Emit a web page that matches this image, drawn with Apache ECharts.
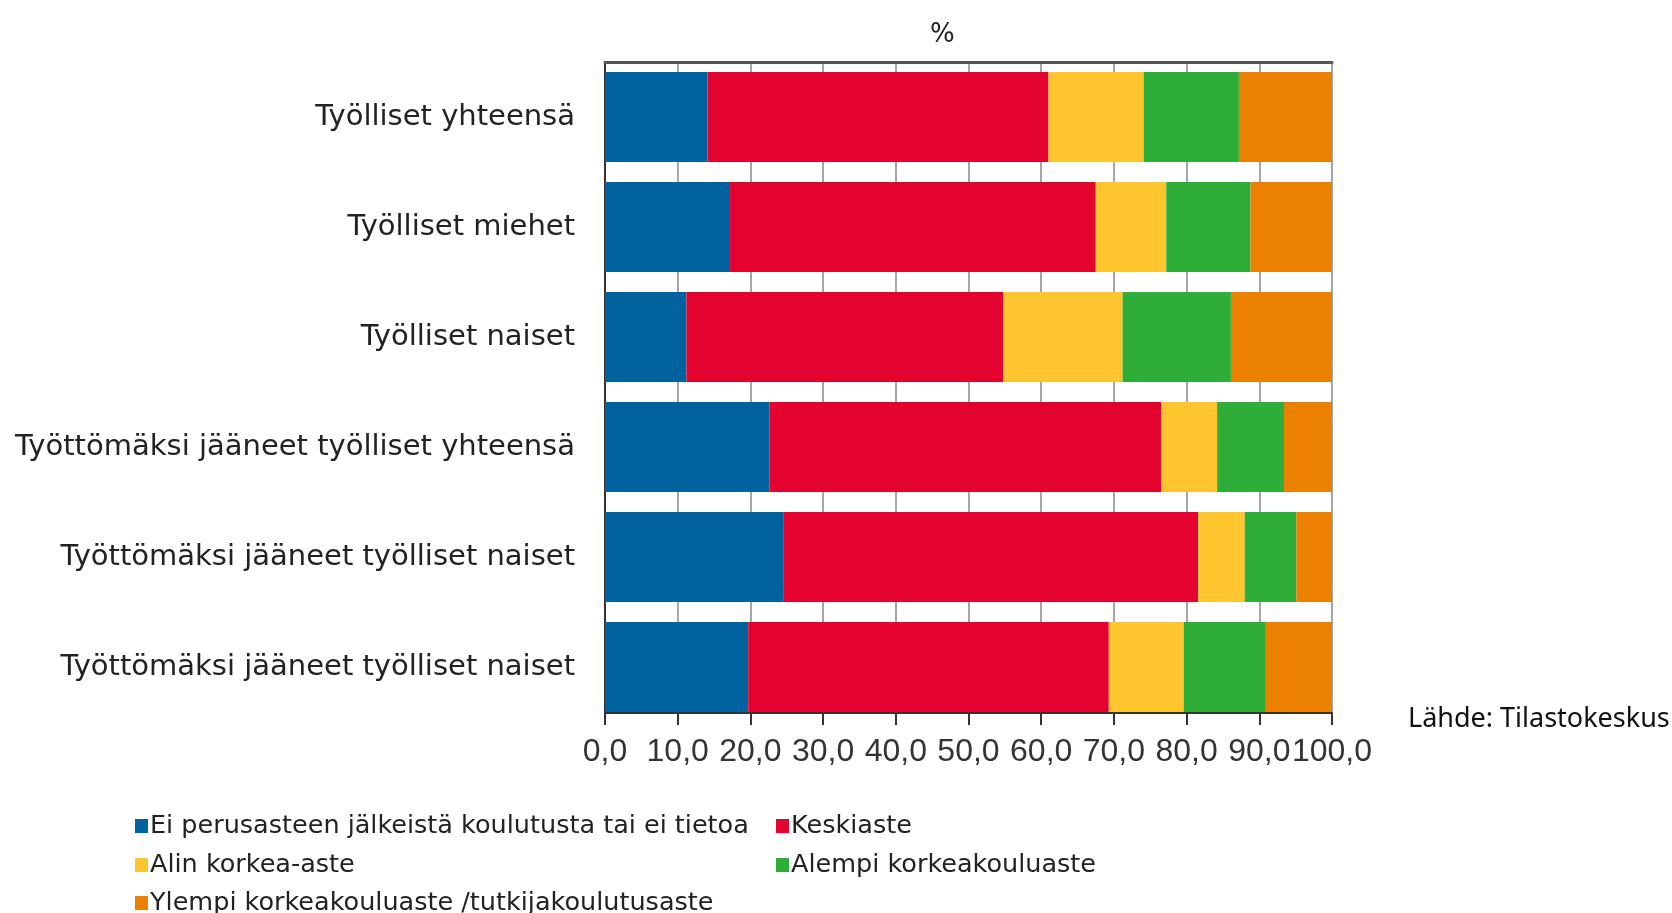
<!DOCTYPE html>
<html>
<head>
<meta charset="utf-8">
<title>Koulutusaste</title>
<script src="https://cdn.jsdelivr.net/npm/echarts@6/dist/echarts.min.js"></script>
<style>
html,body{margin:0;padding:0;background:#fff;}
#chart{width:1672px;height:913px;}
</style>
</head>
<body>
<div id="chart"></div>
<script>
// categories (top to bottom)
var categories = [
	'Työlliset yhteensä',
	'Työlliset miehet',
	'Työlliset naiset',
	'Työttömäksi jääneet työlliset yhteensä',
	'Työttömäksi jääneet työlliset naiset',
	'Työttömäksi jääneet työlliset naiset'
];
var seriesNames = [
	'Ei perusasteen jälkeistä koulutusta tai ei tietoa',
	'Keskiaste',
	'Alin korkea-aste',
	'Alempi korkeakouluaste',
	'Ylempi korkeakouluaste /tutkijakoulutusaste'
];
var eiTietoa  = [14.1, 17.2, 11.2, 22.6, 24.6, 19.7];
var keskiaste = [46.9, 50.3, 43.6, 53.9, 57.0, 49.6];
var alinKorkea = [13.1, 9.7, 16.4, 7.7, 6.4, 10.3];
var alempiKorkea = [13.1, 11.6, 14.9, 9.2, 7.1, 11.3];
var ylempiKorkea = [12.8, 11.2, 13.9, 6.6, 4.9, 9.1];
var xTicks = [0, 10, 20, 30, 40, 50, 60, 70, 80, 90, 100];

var colors = ['#0063a0', '#e4032e', '#fec52e', '#2eae38', '#ec8000'];
var values = [eiTietoa, keskiaste, alinKorkea, alempiKorkea, ylempiKorkea];

var labelFont = 'DejaVu Sans';

// legend places: [left, top] for every series, two columns
var legendPos = [[130, 808], [771, 808], [130, 847], [771, 847], [130, 885]];

function buildSeries(){
	var list = [];
	for(var i=0;i<seriesNames.length;i++){
		list.push({
			name: seriesNames[i],
			type: 'bar',
			stack: 'total',
			barCategoryGap: '18.2%',
			itemStyle: {color: colors[i]},
			data: values[i]
		});
	}
	return list;
}

function buildLegends(){
	var list = [];
	for(var i=0;i<seriesNames.length;i++){
		list.push({
			orient: 'horizontal',
			left: legendPos[i][0],
			top: legendPos[i][1],
			itemWidth: 13,
			itemHeight: 14,
			icon: 'rect',
			selectedMode: false,
			data: [seriesNames[i]],
			textStyle: {fontFamily: labelFont, fontSize: 25.5, lineHeight: 22, color: '#222', padding: [0,0,0,-3]}
		});
	}
	return list;
}

var chart = echarts.init(document.getElementById('chart'));
var option = {
	animation: false,
	backgroundColor: '#fff',
	title: [{
		text: '%',
		left: 925,
		top: 17,
		textStyle: {fontFamily: labelFont, fontSize: 26, fontWeight: 'normal', color: '#222'}
	},{
		text: 'Lähde: Tilastokeskus',
		left: 1403,
		top: 701,
		textStyle: {fontFamily: 'Noto Sans', fontSize: 27, fontWeight: 'normal', color: '#111'}
	}],
	legend: buildLegends(),
	grid: {
		left: 605,
		right: 340,
		top: 62,
		bottom: 191,
		containLabel: false,
		outerBoundsMode: 'none'
	},
	xAxis: [{
		type: 'value',
		position: 'bottom',
		min: xTicks[0],
		max: xTicks[xTicks.length-1],
		interval: 10,
		offset: -9,
		axisLine: {show: true, lineStyle: {color: '#333', width: 2}},
		axisTick: {show: true, length: 12, lineStyle: {color: '#333', width: 2}},
		axisLabel: {
			margin: 23,
			fontFamily: 'Liberation Sans',
			fontSize: 32,
			color: '#333',
			formatter: function(v){ return v.toFixed(1).replace('.', ','); }
		},
		splitLine: {show: true, lineStyle: {color: '#a6a6a6', width: 2}}
	},{
		type: 'value',
		position: 'top',
		min: 0,
		max: 100,
		axisLine: {show: true, lineStyle: {color: '#555', width: 3}},
		axisTick: {show: false},
		axisLabel: {show: false},
		splitLine: {show: false}
	}],
	yAxis: [{
		type: 'category',
		inverse: true,
		data: categories,
		axisLine: {show: true, lineStyle: {color: '#333', width: 2}},
		axisTick: {show: false},
		axisLabel: {margin: 30, fontFamily: labelFont, fontSize: 29, color: '#222'}
	},{
		type: 'category',
		position: 'right',
		inverse: true,
		data: categories,
		axisLine: {show: true, lineStyle: {color: '#333', width: 2}},
		axisTick: {show: false},
		axisLabel: {show: false}
	}],
	series: buildSeries()
};
chart.setOption(option);
</script>
</body>
</html>
